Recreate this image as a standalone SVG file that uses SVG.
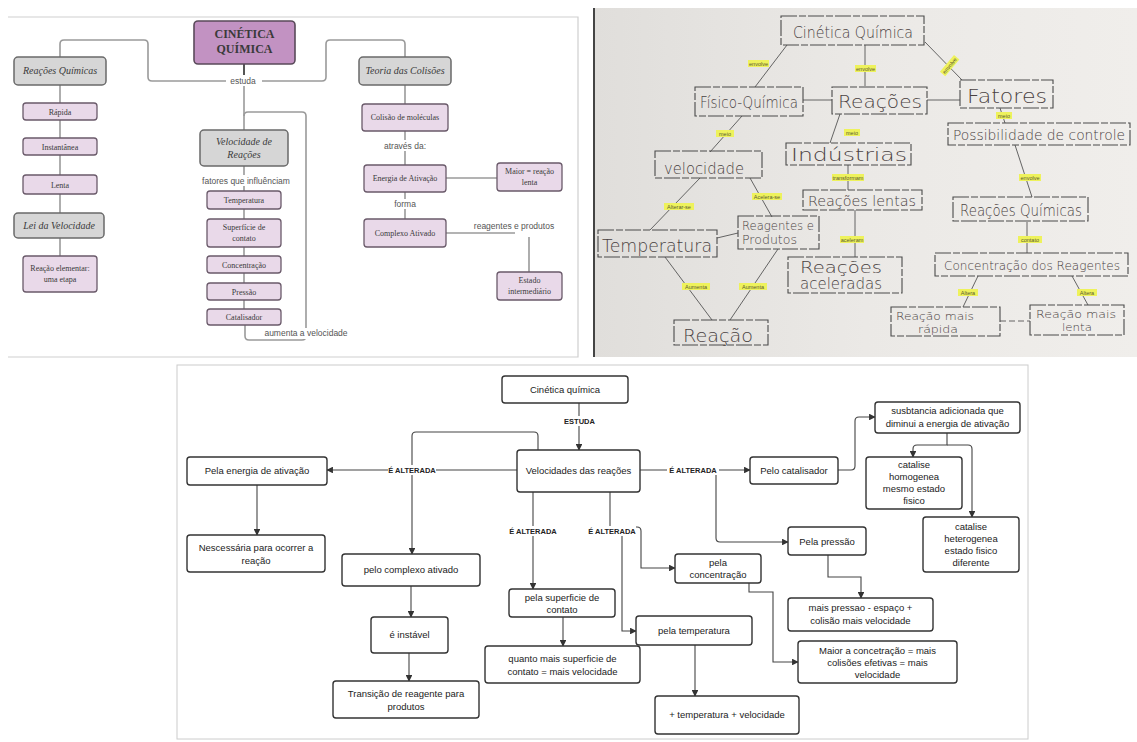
<svg xmlns="http://www.w3.org/2000/svg" width="1137" height="742" viewBox="0 0 1137 742">
<defs>
<linearGradient id="paper" x1="0" y1="0" x2="1" y2="0">
<stop offset="0" stop-color="#e0dedb"/><stop offset="0.5" stop-color="#ebe9e6"/><stop offset="1" stop-color="#f0eeeb"/>
</linearGradient>
<marker id="ar" viewBox="0 0 10 10" refX="9" refY="5" markerWidth="6" markerHeight="6" orient="auto"><path d="M0,0 L10,5 L0,10 z" fill="#333"/></marker>
</defs>
<style>
.p1l{fill:none;stroke:#9a9a9a;stroke-width:1.6}
.gray{fill:#d6d6d6;stroke:#6a6a6a;stroke-width:1.5}
.lav{fill:#e9d9e9;stroke:#6a5a6a;stroke-width:1.3}
.ser{font-family:"Liberation Serif",serif;fill:#3a3a3a;text-anchor:middle}
.it{font-style:italic;font-size:10px}
.sm{font-size:8px}
.lab1{font-family:"Liberation Sans",sans-serif;font-size:8.5px;fill:#555;text-anchor:middle}
.hb{fill:none;stroke:#4a4a4a;stroke-width:1.1;stroke-dasharray:16 2 7 2}
.hl{fill:none;stroke:#555;stroke-width:0.9}
.ht{font-family:"DejaVu Sans ExtraLight","DejaVu Sans",sans-serif;font-weight:200;fill:#4a4242}
.yl{fill:#eef25c}
.yt{font-family:"Liberation Sans",sans-serif;font-size:5.5px;fill:#5a5a30;text-anchor:middle}
.b3{fill:#fff;stroke:#333;stroke-width:1.4}
.t3{font-family:"Liberation Sans",sans-serif;font-size:9.5px;fill:#222;text-anchor:middle}
.c3{fill:none;stroke:#444;stroke-width:1.1}
.l3{font-family:"Liberation Sans",sans-serif;font-size:7.5px;font-weight:bold;fill:#222;text-anchor:middle}
</style>
<rect width="1137" height="742" fill="#fff"/>

<!-- ============ PANEL 1 ============ -->
<polyline points="8,17 578,17 578,357 8,357" fill="none" stroke="#cfcfcf" stroke-width="1.2"/>
<g id="p1-connectors">
<path class="p1l" d="M60,57 V44 Q60,40 64,40 H144 Q148,40 148,44 V77 Q148,81 152,81 H322 Q326,81 326,77 V44 Q326,40 330,40 H401 Q405,40 405,44 V57"/>
<path d="M244,64 V78" stroke="#555" stroke-width="2" fill="none"/>
<path class="p1l" d="M244,84 V130"/>
<path class="p1l" d="M244,116 Q244,112 248,112 H302 Q306,112 306,116 V336 Q306,340 302,340 H249 Q245,340 245,336 V325"/>
<path class="p1l" d="M244,166 V191 M244,209 V219 M244,247 V256 M244,273 V283 M244,300 V309"/>
<path class="p1l" d="M60,85 V256"/>
<path class="p1l" d="M405,85 V104 M405,131 V165 M405,192 V219"/>
<path class="p1l" d="M446,178 H497"/>
<path class="p1l" d="M446,233 H515 M529,237 V272"/>
<rect x="226" y="75" width="36" height="11" fill="#fff"/>
<text class="lab1" x="243" y="84">estuda</text>
<rect x="195" y="175" width="102" height="11" fill="#fff"/>
<text class="lab1" x="246" y="184">fatores que  influênciam</text>
<rect x="260" y="328" width="92" height="11" fill="#fff"/>
<text class="lab1" x="306" y="336">aumenta a velocidade</text>
<rect x="380" y="140" width="50" height="11" fill="#fff"/>
<text class="lab1" x="405" y="149">através da:</text>
<rect x="390" y="199" width="30" height="10" fill="#fff"/>
<text class="lab1" x="405" y="207">forma</text>
<text class="lab1" x="514" y="229">reagentes e produtos</text>
</g>
<g id="p1-cinetica"><rect x="194" y="21" width="101" height="43" rx="4" fill="#c292c2" stroke="#5a4a5a" stroke-width="1.6"/>
<text class="ser" x="244.5" y="38" font-size="12" font-weight="bold">CINÉTICA</text><text class="ser" x="244.5" y="53" font-size="12" font-weight="bold">QUÍMICA</text></g>
<g id="p1-reacoes"><rect class="gray" x="14" y="57" width="92" height="28" rx="4"/><text class="ser it" x="60" y="74">Reações Químicas</text></g>
<g id="p1-rapida"><rect class="lav" x="23" y="103" width="74" height="17" rx="3"/><text class="ser sm" x="60" y="114.5">Rápida</text></g>
<g id="p1-instantanea"><rect class="lav" x="23" y="138" width="74" height="17" rx="3"/><text class="ser sm" x="60" y="149.5">Instantânea</text></g>
<g id="p1-lenta"><rect class="lav" x="23" y="175" width="74" height="19" rx="3"/><text class="ser sm" x="60" y="187.5">Lenta</text></g>
<g id="p1-lei"><rect class="gray" x="14" y="213" width="90" height="25" rx="4"/><text class="ser it" x="59" y="229">Lei da Velocidade</text></g>
<g id="p1-elementar"><rect class="lav" x="23" y="256" width="74" height="36" rx="3"/><text class="ser sm" x="60" y="271">Reação elementar:</text><text class="ser sm" x="60" y="282">uma etapa</text></g>
<g id="p1-velocidade"><rect class="gray" x="200" y="130" width="88" height="36" rx="4"/><text class="ser it" x="244" y="145">Velocidade de</text><text class="ser it" x="244" y="158">Reações</text></g>
<g id="p1-temperatura"><rect class="lav" x="207" y="191" width="74" height="18" rx="3"/><text class="ser sm" x="244" y="203">Temperatura</text></g>
<g id="p1-superficie"><rect class="lav" x="207" y="219" width="74" height="28" rx="3"/><text class="ser sm" x="244" y="230">Superfície de</text><text class="ser sm" x="244" y="241">contato</text></g>
<g id="p1-concentracao"><rect class="lav" x="207" y="256" width="74" height="17" rx="3"/><text class="ser sm" x="244" y="267.5">Concentração</text></g>
<g id="p1-pressao"><rect class="lav" x="207" y="283" width="74" height="17" rx="3"/><text class="ser sm" x="244" y="294.5">Pressão</text></g>
<g id="p1-catalisador"><rect class="lav" x="207" y="309" width="74" height="16" rx="3"/><text class="ser sm" x="244" y="320">Catalisador</text></g>
<g id="p1-teoria"><rect class="gray" x="359" y="57" width="92" height="28" rx="4"/><text class="ser it" x="405" y="74">Teoria das Colisões</text></g>
<g id="p1-colisao"><rect class="lav" x="362" y="104" width="86" height="27" rx="3"/><text class="ser sm" x="405" y="120">Colisão de moléculas</text></g>
<g id="p1-energia"><rect class="lav" x="364" y="165" width="82" height="27" rx="3"/><text class="ser sm" x="405" y="181">Energia de Ativação</text></g>
<g id="p1-maior"><rect class="lav" x="497" y="163" width="65" height="28" rx="3"/><text class="ser sm" x="529.5" y="174">Maior = reação</text><text class="ser sm" x="529.5" y="185">lenta</text></g>
<g id="p1-complexo"><rect class="lav" x="364" y="219" width="82" height="28" rx="3"/><text class="ser sm" x="405" y="236">Complexo Ativado</text></g>
<g id="p1-estado"><rect class="lav" x="497" y="272" width="65" height="28" rx="3"/><text class="ser sm" x="529.5" y="283">Estado</text><text class="ser sm" x="529.5" y="294">intermediário</text></g>

<!-- ============ PANEL 2 (photo) ============ -->
<rect x="595" y="8" width="542" height="349" fill="url(#paper)"/>
<rect x="593" y="8" width="2" height="349" fill="#444"/>
<g id="p2-connectors">
<path class="hl" d="M787,45 L755,87 M865,45 V86 M925,42 L962,80 M803,100 H832 M927,100 H960"/>
<path class="hl" d="M742,116 L710,152 M840,114 L830,143 M1000,108 L1005,123 M1015,145 L1032,197"/>
<path class="hl" d="M848,165 V190 M855,210 V257 M700,178 L650,230 M750,178 L772,217 M717,238 L738,233"/>
<path class="hl" d="M665,257 L712,320 M778,249 L730,320 M1027,222 V253 M978,276 L963,307 M1072,276 L1088,305"/>
<path class="hl" d="M1000,321 H1030" stroke-dasharray="6 3"/>
<rect class="yl" x="748" y="60" width="21" height="7"/><text class="yt" x="758.5" y="65.5">envolve</text>
<rect class="yl" x="855" y="65" width="21" height="7"/><text class="yt" x="865.5" y="70.5">envolve</text>
<g transform="translate(950,66) rotate(-50)"><rect class="yl" x="-11" y="-4" width="22" height="7"/><text class="yt" x="0" y="1.5">envolve</text></g>
<rect class="yl" x="716" y="130" width="18" height="7"/><text class="yt" x="725" y="135.5">meio</text>
<rect class="yl" x="844" y="129" width="16" height="7"/><text class="yt" x="852" y="134.5">meio</text>
<rect class="yl" x="996" y="112" width="16" height="7"/><text class="yt" x="1004" y="117.5">meio</text>
<rect class="yl" x="1019" y="174" width="22" height="7"/><text class="yt" x="1030" y="179.5">envolve</text>
<rect class="yl" x="832" y="174" width="32" height="7"/><text class="yt" x="848" y="179.5">transformam</text>
<rect class="yl" x="840" y="236" width="24" height="7"/><text class="yt" x="852" y="241.5">aceleram</text>
<rect class="yl" x="664" y="203" width="30" height="7"/><text class="yt" x="679" y="208.5">Alterar-se</text>
<rect class="yl" x="752" y="193" width="30" height="7"/><text class="yt" x="767" y="198.5">Acelera-se</text>
<rect class="yl" x="682" y="283" width="28" height="7"/><text class="yt" x="696" y="288.5">Aumenta</text>
<rect class="yl" x="739" y="283" width="28" height="7"/><text class="yt" x="753" y="288.5">Aumenta</text>
<rect class="yl" x="1018" y="236" width="24" height="7"/><text class="yt" x="1030" y="241.5">contato</text>
<rect class="yl" x="958" y="289" width="20" height="7"/><text class="yt" x="968" y="294.5">Altera</text>
<rect class="yl" x="1077" y="289" width="20" height="7"/><text class="yt" x="1087" y="294.5">Altera</text>
</g>
<g id="p2-cinetica"><rect class="hb" x="781" y="16" width="143" height="29"/><text class="ht" x="793" y="38" font-size="16" textLength="120" lengthAdjust="spacingAndGlyphs">Cinética Química</text></g>
<g id="p2-fisico"><rect class="hb" x="695" y="87" width="108" height="29"/><text class="ht" x="700" y="108" font-size="15" textLength="98" lengthAdjust="spacingAndGlyphs">Físico-Química</text></g>
<g id="p2-reacoes"><rect class="hb" x="832" y="87" width="95" height="27"/><text class="ht" x="838" y="108" font-size="18" textLength="84" lengthAdjust="spacingAndGlyphs">Reações</text></g>
<g id="p2-fatores"><rect class="hb" x="960" y="80" width="93" height="28"/><text class="ht" x="967" y="103" font-size="20" textLength="80" lengthAdjust="spacingAndGlyphs">Fatores</text></g>
<g id="p2-possibilidade"><rect class="hb" x="948" y="123" width="182" height="22"/><text class="ht" x="953" y="140" font-size="14" textLength="172" lengthAdjust="spacingAndGlyphs">Possibilidade de controle</text></g>
<g id="p2-velocidade"><rect class="hb" x="655" y="151" width="107" height="27"/><text class="ht" x="664" y="174" font-size="15" textLength="80" lengthAdjust="spacingAndGlyphs">velocidade</text></g>
<g id="p2-industrias"><rect class="hb" x="786" y="143" width="125" height="22"/><text class="ht" x="791" y="161" font-size="17" textLength="116" lengthAdjust="spacingAndGlyphs">Indústrias</text></g>
<g id="p2-lentas"><rect class="hb" x="803" y="190" width="119" height="20"/><text class="ht" x="808" y="206" font-size="14" textLength="108" lengthAdjust="spacingAndGlyphs">Reações lentas</text></g>
<g id="p2-temperatura"><rect class="hb" x="598" y="230" width="119" height="27"/><text class="ht" x="602" y="252" font-size="18" textLength="110" lengthAdjust="spacingAndGlyphs">Temperatura</text></g>
<g id="p2-reagentes"><rect class="hb" x="738" y="216" width="81" height="33"/><text class="ht" x="742" y="230" font-size="12" fill="#5a3535" textLength="72" lengthAdjust="spacingAndGlyphs">Reagentes e</text><text class="ht" x="742" y="244" font-size="12" textLength="55" lengthAdjust="spacingAndGlyphs">Produtos</text></g>
<g id="p2-aceleradas"><rect class="hb" x="788" y="257" width="114" height="36"/><text class="ht" x="800" y="273" font-size="15" fill="#5a3535" textLength="82" lengthAdjust="spacingAndGlyphs">Reações</text><text class="ht" x="800" y="289" font-size="15" textLength="82" lengthAdjust="spacingAndGlyphs">aceleradas</text></g>
<g id="p2-reacao"><rect class="hb" x="674" y="320" width="94" height="25"/><text class="ht" x="683" y="342" font-size="18" textLength="70" lengthAdjust="spacingAndGlyphs">Reação</text></g>
<g id="p2-quimicas"><rect class="hb" x="953" y="197" width="135" height="24"/><text class="ht" x="960" y="216" font-size="15" textLength="122" lengthAdjust="spacingAndGlyphs">Reações Químicas</text></g>
<g id="p2-concentracao"><rect class="hb" x="935" y="253" width="193" height="23"/><text class="ht" x="944" y="270" font-size="13" fill="#5a3535" textLength="176" lengthAdjust="spacingAndGlyphs">Concentração dos Reagentes</text></g>
<g id="p2-rapida"><rect class="hb" x="891" y="307" width="109" height="29"/><text class="ht" x="896" y="320" font-size="11" fill="#5a3535" textLength="78" lengthAdjust="spacingAndGlyphs">Reação mais</text><text class="ht" x="918" y="333" font-size="11" textLength="40" lengthAdjust="spacingAndGlyphs">rápida</text></g>
<g id="p2-lenta"><rect class="hb" x="1030" y="305" width="94" height="30"/><text class="ht" x="1036" y="318" font-size="11" fill="#5a3535" textLength="80" lengthAdjust="spacingAndGlyphs">Reação mais</text><text class="ht" x="1062" y="331" font-size="11" textLength="30" lengthAdjust="spacingAndGlyphs">lenta</text></g>

<!-- ============ PANEL 3 ============ -->
<rect x="177" y="365" width="851" height="374" fill="#fff" stroke="#cccccc" stroke-width="1"/>
<g id="p3-connectors">
<path class="c3" d="M579,403 V450" marker-end="url(#ar)"/>
<path class="c3" d="M517,470 H327" marker-end="url(#ar)"/>
<path class="c3" d="M538,450 V436 Q538,432 534,432 H416 Q412,432 412,436 V554" marker-end="url(#ar)"/>
<path class="c3" d="M257,485 V535" marker-end="url(#ar)"/>
<path class="c3" d="M533,492 V589" marker-end="url(#ar)"/>
<path class="c3" d="M610,492 V527"/>
<path class="c3" d="M622,536 V631 H636" marker-end="url(#ar)"/>
<path class="c3" d="M634,527 H637 Q641,527 641,531 V568 H675" marker-end="url(#ar)"/>
<path class="c3" d="M640,470 H750" marker-end="url(#ar)"/>
<path class="c3" d="M716,470 V538 Q716,542 720,542 H788" marker-end="url(#ar)"/>
<path class="c3" d="M838,470 H851 Q855,470 855,466 V421 Q855,417 859,417 H875" marker-end="url(#ar)"/>
<path class="c3" d="M947,433 V445 H917 Q913,445 913,449 V457" marker-end="url(#ar)"/>
<path class="c3" d="M947,445 H968 Q972,445 972,449 V517" marker-end="url(#ar)"/>
<path class="c3" d="M563,617 V646" marker-end="url(#ar)"/>
<path class="c3" d="M695,645 V696" marker-end="url(#ar)"/>
<path class="c3" d="M749,583 V592 H773 V662 H798" marker-end="url(#ar)"/>
<path class="c3" d="M828,555 V577 H861 V598" marker-end="url(#ar)"/>
<path class="c3" d="M411,586 V617" marker-end="url(#ar)"/>
<path class="c3" d="M409,653 V681" marker-end="url(#ar)"/>
<rect x="562" y="416" width="35" height="10" fill="#fff"/><text class="l3" x="579.5" y="424">ESTUDA</text>
<rect x="388" y="465" width="48" height="10" fill="#fff"/><text class="l3" x="412" y="473">É ALTERADA</text>
<rect x="667" y="465" width="52" height="10" fill="#fff"/><text class="l3" x="693" y="473">É ALTERADA</text>
<rect x="509" y="526" width="48" height="10" fill="#fff"/><text class="l3" x="533" y="534">É ALTERADA</text>
<rect x="588" y="526" width="48" height="10" fill="#fff"/><text class="l3" x="612" y="534">É ALTERADA</text>
</g>
<g id="p3-cinetica"><rect class="b3" x="502" y="376" width="126" height="27" rx="3"/><text class="t3" x="565" y="393">Cinética química</text></g>
<g id="p3-velocidades"><rect class="b3" x="517" y="450" width="123" height="42" rx="3"/><text class="t3" x="578.5" y="474">Velocidades das reações</text></g>
<g id="p3-energia"><rect class="b3" x="187" y="457" width="140" height="28" rx="3"/><text class="t3" x="257" y="474">Pela energia de ativação</text></g>
<g id="p3-nescessaria"><rect class="b3" x="187" y="535" width="138" height="37" rx="3"/><text class="t3" x="256" y="551">Nescessária para ocorrer a</text><text class="t3" x="256" y="564">reação</text></g>
<g id="p3-complexo"><rect class="b3" x="342" y="554" width="138" height="32" rx="3"/><text class="t3" x="411" y="573">pelo complexo ativado</text></g>
<g id="p3-instavel"><rect class="b3" x="371" y="617" width="77" height="36" rx="3"/><text class="t3" x="409.5" y="638">é instável</text></g>
<g id="p3-transicao"><rect class="b3" x="333" y="681" width="146" height="37" rx="3"/><text class="t3" x="406" y="697">Transição de reagente para</text><text class="t3" x="406" y="710">produtos</text></g>
<g id="p3-superficie"><rect class="b3" x="509" y="589" width="106" height="28" rx="3"/><text class="t3" x="562" y="601">pela superficie de</text><text class="t3" x="562" y="613">contato</text></g>
<g id="p3-quanto"><rect class="b3" x="485" y="646" width="155" height="37" rx="3"/><text class="t3" x="562.5" y="662">quanto mais superficie de</text><text class="t3" x="562.5" y="675">contato = mais velocidade</text></g>
<g id="p3-temperatura"><rect class="b3" x="636" y="616" width="116" height="29" rx="3"/><text class="t3" x="694" y="634">pela temperatura</text></g>
<g id="p3-maistemp"><rect class="b3" x="655" y="696" width="144" height="38" rx="3"/><text class="t3" x="727" y="718">+ temperatura + velocidade</text></g>
<g id="p3-concentracao"><rect class="b3" x="675" y="554" width="86" height="29" rx="3"/><text class="t3" x="718" y="566">pela</text><text class="t3" x="718" y="578">concentração</text></g>
<g id="p3-maior"><rect class="b3" x="798" y="641" width="159" height="42" rx="3"/><text class="t3" x="877.5" y="654">Maior a concetração = mais</text><text class="t3" x="877.5" y="666">colisões efetivas = mais</text><text class="t3" x="877.5" y="678">velocidade</text></g>
<g id="p3-pressao"><rect class="b3" x="788" y="527" width="78" height="28" rx="3"/><text class="t3" x="827" y="545">Pela pressão</text></g>
<g id="p3-maispressao"><rect class="b3" x="788" y="598" width="145" height="33" rx="3"/><text class="t3" x="860.5" y="611">mais pressao - espaço +</text><text class="t3" x="860.5" y="624">colisão mais velocidade</text></g>
<g id="p3-catalisador"><rect class="b3" x="750" y="457" width="88" height="27" rx="3"/><text class="t3" x="794" y="474">Pelo catalisador</text></g>
<g id="p3-substancia"><rect class="b3" x="875" y="402" width="145" height="31" rx="3"/><text class="t3" x="947.5" y="414">susbtancia adicionada que</text><text class="t3" x="947.5" y="427">diminui a energia de ativação</text></g>
<g id="p3-homogenea"><rect class="b3" x="866" y="457" width="96" height="52" rx="3"/><text class="t3" x="914" y="468">catalise</text><text class="t3" x="914" y="480">homogenea</text><text class="t3" x="914" y="492">mesmo estado</text><text class="t3" x="914" y="504">fisico</text></g>
<g id="p3-heterogenea"><rect class="b3" x="923" y="517" width="96" height="55" rx="3"/><text class="t3" x="971" y="530">catalise</text><text class="t3" x="971" y="542">heterogenea</text><text class="t3" x="971" y="554">estado fisico</text><text class="t3" x="971" y="566">diferente</text></g>
</svg>
